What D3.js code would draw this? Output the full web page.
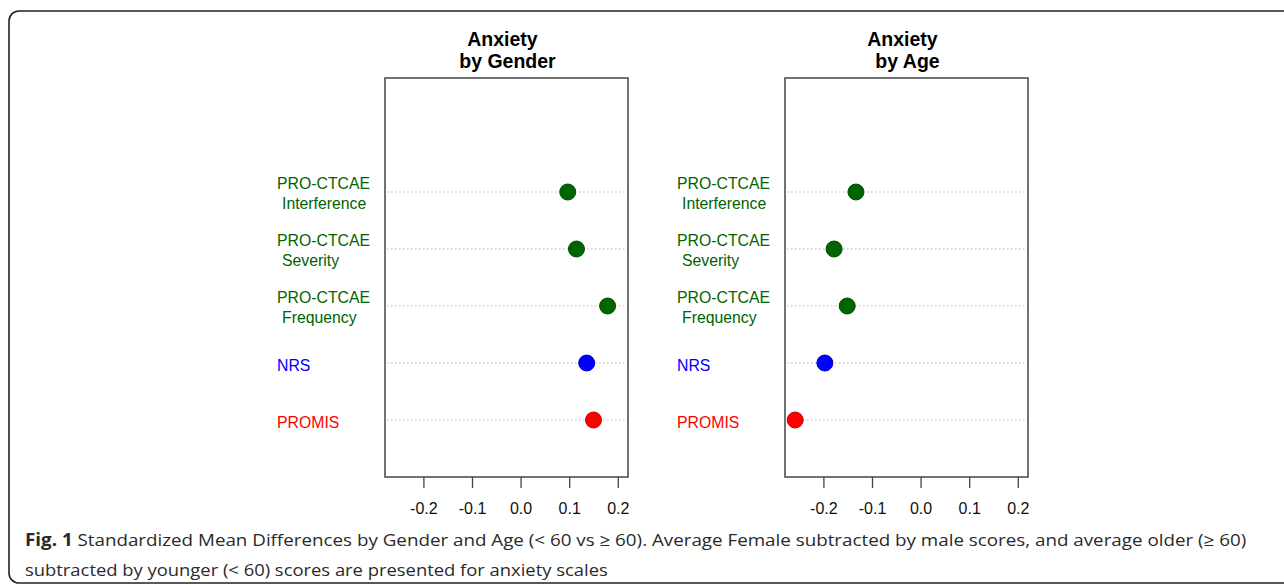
<!DOCTYPE html>
<html>
<head>
<meta charset="utf-8">
<script src="https://cdn.jsdelivr.net/npm/d3@7"></script>
<style>
  html, body { margin: 0; padding: 0; background: #fff; }
  svg { display: block; }
</style>
</head>
<body>
<svg id="chart" width="1284" height="586"></svg>
<script>
// Data
const categories = ['PRO-CTCAE\nInterference', 'PRO-CTCAE\nSeverity', 'PRO-CTCAE\nFrequency', 'NRS', 'PROMIS'];
const categoryColors = ['#006400', '#006400', '#006400', '#0000ff', '#ff0000'];
const genderSMD = [0.097, 0.115, 0.179, 0.136, 0.150];
const ageSMD = [-0.133, -0.178, -0.151, -0.197, -0.258];
const xTicks = [-0.2, -0.1, 0.0, 0.1, 0.2];
const panelTitles = [['Anxiety', 'by Gender'], ['Anxiety', 'by Age']];
const captionBold = 'Fig. 1';
const captionLines = [
    ' Standardized Mean Differences by Gender and Age (< 60 vs \u2265 60). Average Female subtracted by male scores, and average older (\u2265 60)',
    'subtracted by younger (< 60) scores are presented for anxiety scales'
];

const svg = d3.select('#chart');
const chartFont = '"Liberation Sans", Arial, sans-serif';

// Outer figure frame (open on the right)
svg.append('rect')
    .attr('x', 9).attr('y', 11)
    .attr('width', 1320).attr('height', 572)
    .attr('rx', 10).attr('ry', 10)
    .attr('fill', 'none')
    .attr('stroke', '#222')
    .attr('stroke-width', 1.6);

// One dot chart panel
function drawPanel(left, values, title) {
    let boxW = 243;
    let top = 78, bottom = 477;

    let x = d3.scaleLinear().domain([-0.279, 0.221]).range([left, left + boxW]);
    let y = d3.scaleLinear().domain([0, 7]).range([bottom, top]);

    let rows = categories.map((c, i) => ({
        label: c.split('\n'),
        color: categoryColors[i],
        value: values[i],
        pos: categories.length - i,
    }));

    let g = svg.append('g');

    // dotted guide lines
    g.selectAll('line.guide')
        .data(rows)
        .enter()
        .append('line')
        .attr('class', 'guide')
        .attr('x1', left + 2)
        .attr('x2', left + boxW - 2)
        .attr('y1', (d) => y(d.pos))
        .attr('y2', (d) => y(d.pos))
        .attr('stroke', '#b5b5b5')
        .attr('stroke-width', 1)
        .attr('stroke-dasharray', '1.5,2.5');

    // box
    g.append('rect')
        .attr('x', left).attr('y', top)
        .attr('width', boxW).attr('height', bottom - top)
        .attr('fill', 'none')
        .attr('stroke', '#444')
        .attr('stroke-width', 1.5);

    // x axis ticks
    let axis = g.append('g')
        .attr('transform', 'translate(0,' + bottom + ')')
        .call(d3.axisBottom(x).tickValues(xTicks).tickSize(11).tickPadding(15));
    axis.select('.domain').remove();
    axis.selectAll('.tick line').attr('stroke', '#444').attr('stroke-width', 1.3);
    axis.selectAll('.tick text')
        .attr('font-family', chartFont)
        .attr('font-size', 16)
        .attr('fill', '#111')
        .text((d) => d3.format('.1f')(d).replace('\u2212', '-'));

    // points
    g.selectAll('circle')
        .data(rows)
        .enter()
        .append('circle')
        .attr('cx', (d) => x(d.value))
        .attr('cy', (d) => y(d.pos))
        .attr('r', 8)
        .attr('fill', (d) => d.color)
        .attr('stroke', (d) => d3.color(d.color).darker(0.6))
        .attr('stroke-width', 1);

    // category labels (left aligned, second line indented by a space)
    let labels = g.selectAll('text.cat')
        .data(rows)
        .enter()
        .append('text')
        .attr('class', 'cat')
        .attr('font-family', chartFont)
        .attr('font-size', 15.8)
        .attr('fill', (d) => d.color);
    labels.each(function (d) {
        let t = d3.select(this);
        let cy = y(d.pos);
        if (d.label.length === 1) {
            t.append('tspan').attr('x', left - 108).attr('y', cy + 7.5).text(d.label[0]);
        } else {
            t.append('tspan').attr('x', left - 108).attr('y', cy - 3).text(d.label[0]);
            t.append('tspan').attr('x', left - 103).attr('y', cy + 17).text(d.label[1]);
        }
    });

    // title
    let cx = left + boxW / 2;
    let tt = g.append('text')
        .attr('font-family', chartFont)
        .attr('font-size', 19.5)
        .attr('font-weight', 'bold')
        .attr('fill', '#000')
        .attr('text-anchor', 'middle');
    tt.append('tspan').attr('x', cx - 4).attr('y', 46).text(title[0]);
    tt.append('tspan').attr('x', cx + 1).attr('y', 68).text(title[1]);
}

drawPanel(385, genderSMD, panelTitles[0]);
drawPanel(785, ageSMD, panelTitles[1]);

// Caption, stretched to the widths measured on the figure
let captionWidths = [1222, 583];
let captionBase = [546, 576];
captionLines.forEach(function (line, i) {
    let cg = svg.append('g').attr('transform', 'translate(25,' + captionBase[i] + ')');
    let t = cg.append('text')
        .attr('font-family', '"Open Sans", "Noto Sans", sans-serif')
        .attr('font-size', 17)
        .attr('fill', '#2a2a2a')
        .attr('xml:space', 'preserve');
    if (i === 0) {
        t.append('tspan').attr('font-weight', 'bold').text(captionBold);
    }
    t.append('tspan').text(line);
    let w = t.node().getComputedTextLength();
    if (w > 0) {
        t.attr('transform', 'scale(' + captionWidths[i] / w + ',1)');
    }
});
</script>
</body>
</html>
